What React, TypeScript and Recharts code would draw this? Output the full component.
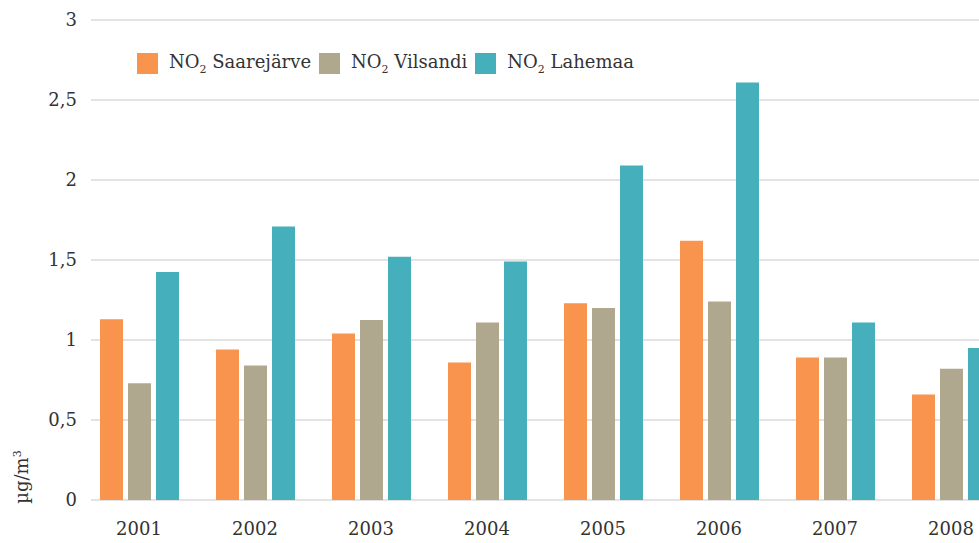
import React from "react";
import { BarChart, Bar, XAxis, YAxis, CartesianGrid, Legend } from "recharts";

const years = ["2001", "2002", "2003", "2004", "2005", "2006", "2007", "2008"];
const saarejarve = [1.13, 0.94, 1.04, 0.86, 1.23, 1.62, 0.89, 0.66];
const vilsandi = [0.73, 0.84, 1.125, 1.11, 1.2, 1.24, 0.89, 0.82];
const lahemaa = [1.425, 1.71, 1.52, 1.49, 2.09, 2.61, 1.11, 0.95];
const yTicks = [0, 0.5, 1, 1.5, 2, 2.5, 3];

const series = [
  { key: "saarejarve", name: "Saarejärve", color: "#F9944E" },
  { key: "vilsandi", name: "Vilsandi", color: "#AFA88F" },
  { key: "lahemaa", name: "Lahemaa", color: "#46AFBC" },
];

const FONT = "'DejaVu Serif', serif";

const data = years.map((y, i) => ({
  year: y,
  saarejarve: saarejarve[i],
  vilsandi: vilsandi[i],
  lahemaa: lahemaa[i],
}));

function LegendBox() {
  return (
    <div style={{ display: "flex", alignItems: "center", fontFamily: FONT, fontSize: 18, color: "#333", whiteSpace: "nowrap" }}>
      {series.map((s) => (
        <div key={s.key} style={{ display: "flex", alignItems: "center", marginRight: 8 }}>
          <span style={{ width: 21, height: 21, background: s.color, display: "inline-block", marginRight: 11 }} />
          <span>
            NO<sub style={{ fontSize: 11 }}>2</sub> {s.name}
          </span>
        </div>
      ))}
    </div>
  );
}

function YLabel(props: any) {
  const vb = props.viewBox || { x: 0, y: 20, width: 81, height: 480 };
  const x = vb.x + 28;
  const y = vb.y + vb.height - 23;
  return (
    <text
      x={x}
      y={y}
      transform={`rotate(-90, ${x}, ${y})`}
      textAnchor="middle"
      fontFamily={FONT}
      fontSize={18}
      fill="#333"
    >
      µg/m<tspan dy={-7} fontSize={11}>3</tspan>
    </text>
  );
}

export default function App() {
  return (
    <div style={{ position: "absolute", left: 0, top: 0, width: 979, height: 543, overflow: "hidden", background: "#fff" }}>
      <BarChart
        width={1009}
        height={543}
        data={data}
        margin={{ top: 20, right: 0, left: 0, bottom: 0 }}
        barSize={23}
        barGap={5}
      >
        <CartesianGrid vertical={false} stroke="#dadada" strokeWidth={1.5} x={91} width={918} />
        <XAxis
          dataKey="year"
          axisLine={false}
          tickLine={false}
          tickSize={0}
          tickMargin={22}
          height={43}
          interval={0}
          tick={{ fontFamily: FONT, fontSize: 18, fill: "#333" }}
        />
        <YAxis
          domain={[0, 3]}
          ticks={yTicks}
          width={81}
          axisLine={false}
          tickLine={false}
          tickSize={0}
          tickMargin={4}
          tickFormatter={(v: number) => String(v).replace(".", ",")}
          tick={{ fontFamily: FONT, fontSize: 18, fill: "#333" }}
          label={<YLabel />}
        />
        <Legend
          layout="horizontal"
          verticalAlign="middle"
          align="center"
          content={() => <LegendBox />}
          wrapperStyle={{ top: 51, left: 137, width: "auto", height: "auto" }}
        />
        {series.map((s) => (
          <Bar key={s.key} dataKey={s.key} name={s.name} fill={s.color} isAnimationActive={false} />
        ))}
      </BarChart>
    </div>
  );
}
